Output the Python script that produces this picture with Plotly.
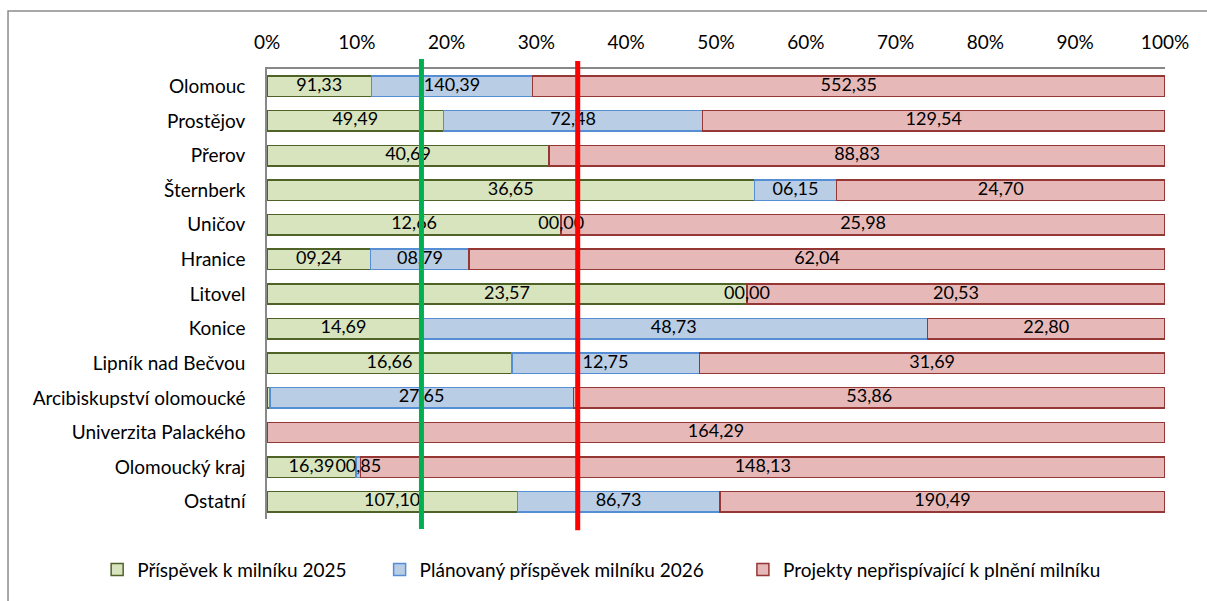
import plotly.graph_objects as go

categories = ["Olomouc", "Prostějov", "Přerov", "Šternberk", "Uničov", "Hranice", "Litovel",
              "Konice", "Lipník nad Bečvou", "Arcibiskupství olomoucké", "Univerzita Palackého",
              "Olomoucký kraj", "Ostatní"]

prispevek_2025 = [91.33, 49.49, 40.69, 36.65, 12.66, 9.24, 23.57, 14.69, 16.66, 0.25, None, 16.39, 107.10]
planovany_2026 = [140.39, 72.48, None, 6.15, 0.00, 8.79, 0.00, 48.73, 12.75, 27.65, None, 0.85, 86.73]
neprispivajici = [552.35, 129.54, 88.83, 24.70, 25.98, 62.04, 20.53, 22.80, 31.69, 53.86, 164.29, 148.13, 190.49]

series_names = ["Příspěvek k milníku 2025", "Plánovaný příspěvek milníku 2026",
                "Projekty nepřispívající k plnění milníku"]
hidden_labels = {0: ["Arcibiskupství olomoucké"]}

milestone_lines = [17.2, 34.6]  # percent positions of the green and red reference lines
tick_values = [0, 10, 20, 30, 40, 50, 60, 70, 80, 90, 100]
tick_labels = [f"{v}%" for v in tick_values]

fills = ["#D7E4BD", "#B9CDE5", "#E6B9B8"]
borders = ["#4F6228", "#558ED5", "#953735"]
line_colors = ["#00B050", "#FF0000"]

FONT = "Lato, 'Open Sans', sans-serif"


def fmt(v):
    return f"{v:05.2f}".replace(".", ",")


all_series = [prispevek_2025, planovany_2026, neprispivajici]
legend_ids = ["legend", "legend2", "legend3"]
legend_x = [0.0805, 0.3145, 0.6155]

fig = go.Figure()
for i, (name, vals) in enumerate(zip(series_names, all_series)):
    fig.add_trace(go.Bar(
        y=categories, x=vals, name=name, orientation="h", legend=legend_ids[i],
        marker=dict(color=fills[i], line=dict(color=borders[i], width=1.5)),
        hoverinfo="x+y+name",
    ))

# data labels drawn above all bars (like Excel), centred on each segment
lab_x, lab_y, lab_t = [], [], []
for j, cat in enumerate(categories):
    vals = [s[j] for s in all_series]
    total = sum(v for v in vals if v is not None)
    cum = 0.0
    for i, v in enumerate(vals):
        if v is None:
            continue
        if cat not in hidden_labels.get(i, []):
            lab_x.append((cum + v / 2) / total * 100)
            lab_y.append(cat)
            lab_t.append(fmt(v))
        cum += v

fig.add_trace(go.Scatter(
    x=lab_x, y=lab_y, text=lab_t, mode="text", textposition="middle center",
    textfont=dict(family=FONT, size=18, color="#000000"),
    showlegend=False, hoverinfo="skip", cliponaxis=False,
))

for xv, col, top, bot in zip(milestone_lines, line_colors, [1.022, 1.018], [-0.022, -0.025]):
    fig.add_shape(type="line", xref="x", yref="paper", x0=xv, x1=xv, y0=bot, y1=top,
                  line=dict(color=col, width=5), layer="above")

# outer chart border
fig.add_shape(type="rect", xref="paper", yref="paper", x0=-0.2884, x1=1.06, y0=-0.2, y1=1.129,
              line=dict(color="#8C8C8C", width=1.5), layer="below")

legend_common = dict(orientation="h", xref="container", xanchor="left",
                     yref="container", y=0.052, yanchor="middle",
                     font=dict(family=FONT, size=19, color="#000000"), itemwidth=30,
                     bgcolor="rgba(0,0,0,0)")

fig.update_layout(
    barmode="stack", barnorm="percent", bargap=0.41,
    width=1207, height=601,
    margin=dict(l=267, r=42, t=69, b=82, autoexpand=False),
    paper_bgcolor="white", plot_bgcolor="white",
    font=dict(family=FONT, size=19, color="#000000"),
    showlegend=True,
    legend=dict(x=legend_x[0], **legend_common),
    legend2=dict(x=legend_x[1], **legend_common),
    legend3=dict(x=legend_x[2], **legend_common),
    xaxis=dict(side="top", range=[0, 100], tickvals=tick_values, ticktext=tick_labels,
               showgrid=False, zeroline=False, showline=True, linecolor="#888888", linewidth=1.5,
               ticks="", ticklabelstandoff=11, tickfont=dict(family=FONT, size=19)),
    yaxis=dict(range=[len(categories) - 0.5, -0.5], showgrid=False, zeroline=False, showline=True,
               linecolor="#888888", linewidth=1.5, ticks="", ticklabelstandoff=16,
               tickfont=dict(family=FONT, size=19)),
)

fig.write_html("out.html", post_script="document.body.style.margin='0px';",
               config={"displayModeBar": False})
